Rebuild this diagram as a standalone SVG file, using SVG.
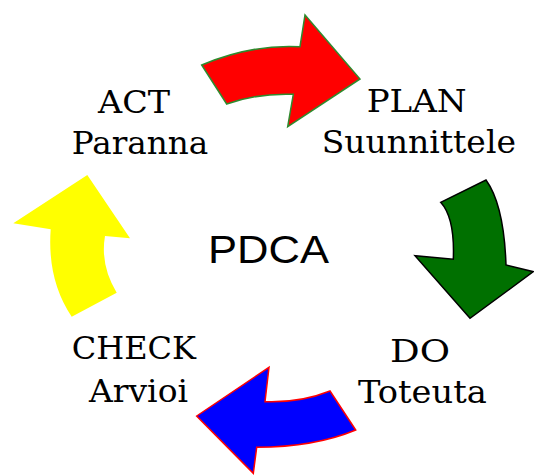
<svg xmlns="http://www.w3.org/2000/svg" width="534" height="475" viewBox="0 0 534 475">
<style>
.lbl{font-family:"DejaVu Serif","Liberation Serif",serif;font-size:31px;fill:#000}
.arrow{stroke-width:1.5;stroke-linejoin:miter}
</style>
<rect width="534" height="475" fill="#fff"/>
<g id="connectors">
<path id="arrow-act-plan" class="arrow" fill="#ff0000" stroke="#2e8b2e" d="M201.7,65 L226.7,104 Q258,93 293.3,94.3 L287.7,126.7 L360,79 L305,15 L300,46.7 Q252,44 201.7,65 Z"/>
<path id="arrow-plan-do" class="arrow" fill="#007000" stroke="#000" d="M440.7,202.3 L486,180 Q504,205 506,265 L533.3,271.7 L470,318.3 L415,255.7 L453.3,259.3 Q455,218 440.7,202.3 Z"/>
<path id="arrow-do-check" class="arrow" fill="#0000ff" stroke="#ff0000" d="M330,391 L355.7,430 Q315,447 256.7,447.3 L253.3,473.3 L196.7,416 L269,367.3 L265,401.7 Q300,403 330,391 Z"/>
<path id="arrow-check-act" fill="#ffff00" stroke="none" d="M87.3,175 L130,238.3 L105,236 Q100,265 116.7,292.7 L71.7,316.7 Q47,280 50.7,229.3 L13.3,223.3 Z"/>
</g>
<g id="node-center">
<text x="208" y="262.7" font-family="'Liberation Sans',Arial,sans-serif" font-size="38" textLength="121" lengthAdjust="spacingAndGlyphs">PDCA</text>
</g>
<g id="node-act">
<text class="lbl" x="98" y="112.7" textLength="72" lengthAdjust="spacingAndGlyphs">ACT</text>
<text class="lbl" x="71.7" y="154" textLength="136.6" lengthAdjust="spacingAndGlyphs">Paranna</text>
</g>
<g id="node-plan">
<text class="lbl" x="366.7" y="112.3" textLength="100" lengthAdjust="spacingAndGlyphs">PLAN</text>
<text class="lbl" x="321.7" y="153.3" textLength="194.3" lengthAdjust="spacingAndGlyphs">Suunnittele</text>
</g>
<g id="node-do">
<text class="lbl" x="390" y="361.7" textLength="60" lengthAdjust="spacingAndGlyphs">DO</text>
<text class="lbl" x="358" y="403.3" textLength="128.7" lengthAdjust="spacingAndGlyphs">Toteuta</text>
</g>
<g id="node-check">
<text class="lbl" x="71.7" y="359.3" textLength="124.3" lengthAdjust="spacingAndGlyphs">CHECK</text>
<text class="lbl" x="89" y="401.7" textLength="99" lengthAdjust="spacingAndGlyphs">Arvioi</text>
</g>
</svg>
